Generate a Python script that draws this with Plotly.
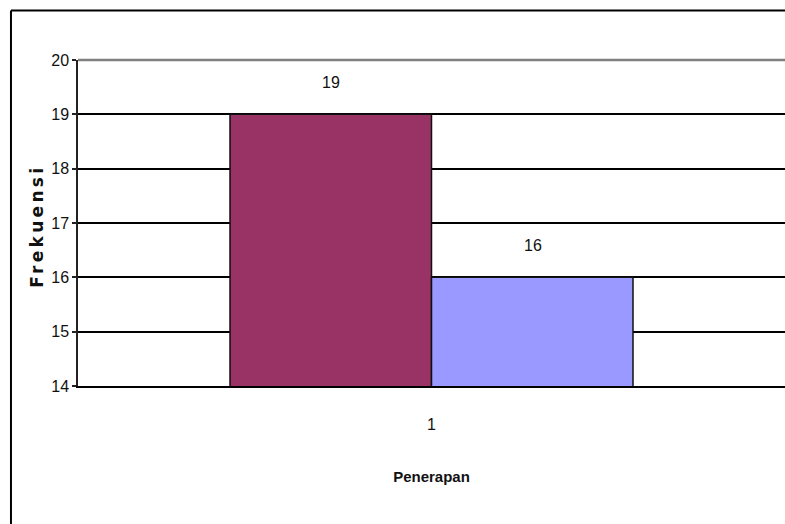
import plotly.graph_objects as go

categories = ["1"]
series_names = ["Seri 1", "Seri 2"]
values_a = [19]
values_b = [16]
colors = ["#993366", "#9999FF"]
y_ticks = [14, 15, 16, 17, 18, 19, 20]

NARROW = "Liberation Sans Narrow, Arial Narrow, Liberation Sans, Arial, sans-serif"

fig = go.Figure()
for name, vals, col in zip(series_names, [values_a, values_b], colors):
    fig.add_trace(go.Bar(
        x=categories, y=vals, name=name,
        marker=dict(color=col, line=dict(color="#111111", width=1.5)),
    ))

# data labels
offsets = [-101, 101]
for vals, dx in zip([values_a, values_b], offsets):
    for i, v in enumerate(vals):
        fig.add_annotation(x=i, y=v, xref="x", yref="y", text=str(v), showarrow=False,
                           xanchor="center", yanchor="middle",
                           xshift=dx, yshift=32,
                           font=dict(family=NARROW, size=16, color="#111111"))

# y-axis title as annotation (placed like the reference)
fig.add_annotation(xref="paper", yref="paper", x=-0.058, y=0.491,
                   xanchor="center", yanchor="middle",
                   text="<b>Frekuensi</b>", textangle=-90, showarrow=False,
                   font=dict(family="DejaVu Sans, Arial, sans-serif", size=17, color="#111111"))

fig.update_layout(
    width=785, height=524,
    margin=dict(l=78, r=0, t=60, b=138),
    paper_bgcolor="white", plot_bgcolor="white",
    barmode="group", bargap=0.43, bargroupgap=0,
    showlegend=False,
    font=dict(family=NARROW, color="#111111"),
)
fig.update_yaxes(
    range=[min(y_ticks), max(y_ticks)], tickvals=y_ticks,
    showgrid=True, gridcolor="#000000", gridwidth=2,
    showline=True, linecolor="#222222", linewidth=1.5,
    ticks="outside", ticklen=4, tickcolor="#222222", tickwidth=1.5,
    tickfont=dict(family=NARROW, size=16, color="#111111"),
    zeroline=False,
)
fig.update_xaxes(
    type="category", range=[-0.5, 0.5], showgrid=False,
    showline=True, linecolor="#000000", linewidth=2,
    ticks="", ticklabelstandoff=23,
    tickfont=dict(family=NARROW, size=16, color="#111111"),
    title=dict(text="<b>Penerapan</b>", standoff=39,
               font=dict(family=NARROW, size=15, color="#111111")),
)

# gray top border of plot area
fig.add_shape(type="line", xref="x domain", yref="y domain", x0=0, x1=1.01, y0=1, y1=1,
              line=dict(color="#808080", width=2.5), layer="above")
# outer chart frame (top and left edges)
fig.add_shape(type="line", xref="paper", yref="paper", x0=-0.0948, x1=1.1, y0=1.1518, y1=1.1518,
              line=dict(color="#000000", width=2))
fig.add_shape(type="line", xref="paper", yref="paper", x0=-0.0948, x1=-0.0948, y0=1.1518, y1=-0.5,
              line=dict(color="#000000", width=2))

post = """
document.querySelectorAll('text.annotation-text').forEach(function(t){
  if (t.textContent === 'Frekuensi') { t.style.letterSpacing = '3.3px'; }
});
"""
fig.write_html("out.html", post_script=post)
